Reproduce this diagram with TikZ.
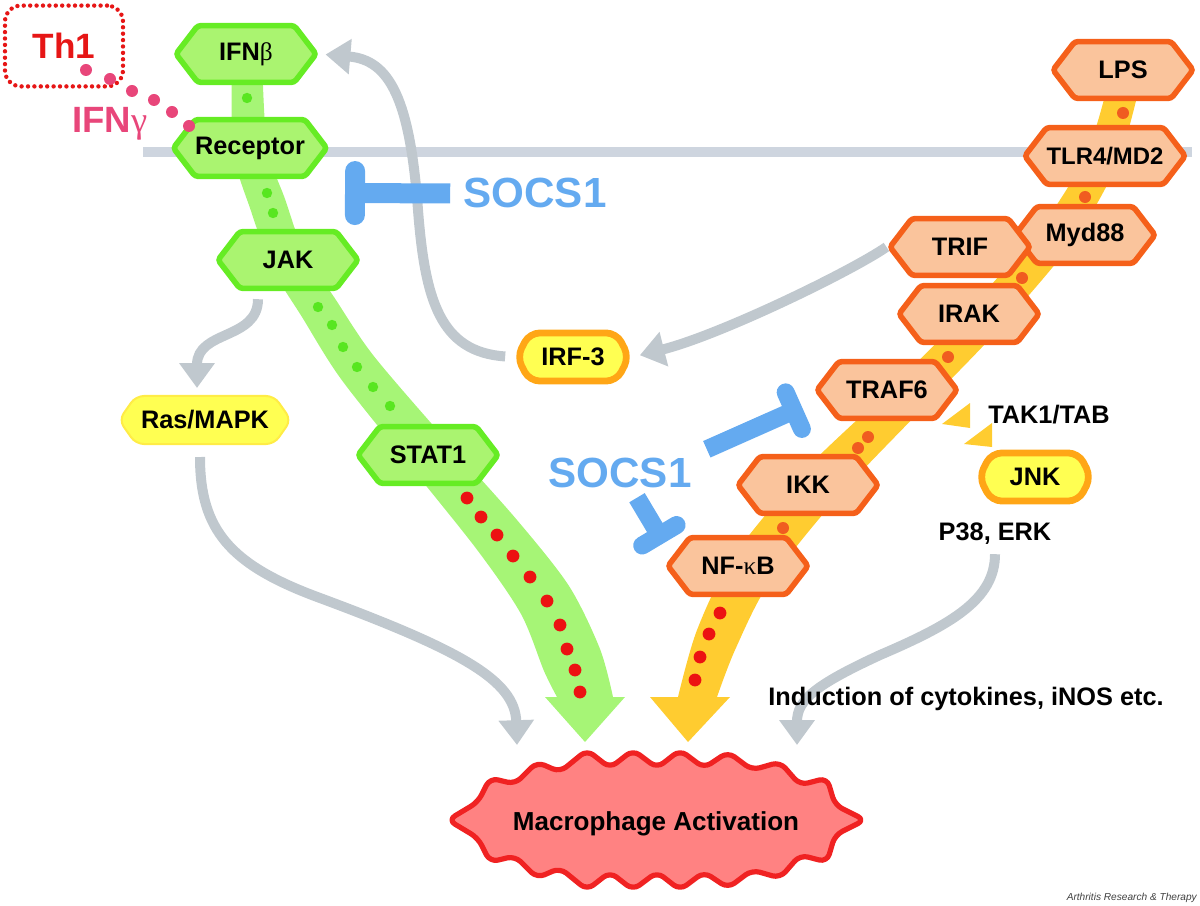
\documentclass[tikz,border=0pt]{standalone}
\usepackage{fontspec}
\setmainfont{Liberation Sans}
\newfontfamily\grk{Liberation Serif}
\usepackage{tikz}
\usetikzlibrary{shapes,arrows.meta,calc,positioning}
\definecolor{grnfill}{RGB}{170,244,112}
\definecolor{grnline}{RGB}{102,236,36}
\definecolor{grnband}{RGB}{166,245,118}
\definecolor{grndot}{RGB}{88,230,32}
\definecolor{orfill}{RGB}{250,196,156}
\definecolor{orline}{RGB}{245,96,26}
\definecolor{orband}{RGB}{255,204,48}
\definecolor{ordot}{RGB}{240,92,32}
\definecolor{reddot}{RGB}{236,18,18}
\definecolor{greyarr}{RGB}{192,200,206}
\definecolor{membr}{RGB}{206,213,223}
\definecolor{socs}{RGB}{100,170,240}
\definecolor{thred}{RGB}{230,22,22}
\definecolor{ifnpink}{RGB}{232,70,122}
\definecolor{yelfill}{RGB}{255,255,82}
\definecolor{yelline}{RGB}{255,166,22}
\definecolor{macfill}{RGB}{255,130,130}
\definecolor{macline}{RGB}{240,34,34}
\tikzstyle{lbl} = [font=\fontsize{18}{20}\selectfont\bfseries, inner sep=0pt]
\tikzstyle{hexg} = [lbl, shape=signal, signal to=east and west, signal pointer angle=105, draw=grnline, fill=grnfill, line width=0.14cm, rounded corners=0.08cm, minimum width=3.5cm, minimum height=1.42cm]
\tikzstyle{hexo} = [hexg, draw=orline, fill=orfill]
\tikzstyle{octy} = [lbl, shape=signal, signal to=east and west, signal pointer angle=125, draw=yelline, fill=yelfill, line width=0.17cm, rounded corners=0.25cm, minimum width=2.8cm, minimum height=1.2cm]
\tikzstyle{rasy} = [octy, signal pointer angle=110, draw=yelfill!85!orange, line width=0.05cm, rounded corners=0.2cm, minimum width=4.3cm, minimum height=1.2cm]
\tikzstyle{greyarrow} = [line width=0.25cm, draw=greyarr, -{Triangle[width=0.85cm,length=0.62cm]}]
\tikzstyle{inhib} = [line width=0.45cm, draw=socs, -{Bar[width=1.0cm,round]}]
\tikzstyle{socstext} = [font=\fontsize{30}{32}\selectfont\bfseries, text=socs, inner sep=0pt]
\tikzstyle{th1box} = [draw=thred, text=thred, line width=0.11cm, dash pattern=on 0pt off 0.16cm, line cap=round, rounded corners=0.4cm, minimum width=2.95cm, minimum height=2.02cm, font=\fontsize{25}{27}\selectfont\bfseries]

\begin{document}
\begin{tikzpicture}[x=0.025cm,y=-0.025cm]
\useasboundingbox (0,0) rectangle (1200,905);

% membrane
\draw[line width=0.25cm, membr] (143,152) -- (1192,152);

% IFN pathway band
\fill[grnband] plot[smooth] coordinates {(232,56) (233,150) (251,211) (272,268) (302,317) (341,379) (411,467) (478,551) (521,614) (544,671) (557,697)}
  -- (545,697) -- (585,742) -- (625,697) -- (613,697)
  -- plot[smooth] coordinates {(613,697) (600,649) (569,586) (517,520) (445,439) (373,355) (334,297) (304,252) (285,199) (267,146) (262,56)} -- cycle;
% LPS pathway band
\fill[orband] plot[smooth] coordinates {(1110,76) (1088,150) (1046,220) (972,306) (892,387) (804,471) (733,557) (697,630) (678,697)}
  -- (650,697) -- (688,742) -- (730,697) -- (717,697)
  -- plot[smooth] coordinates {(717,697) (735,650) (769,583) (836,499) (918,413) (998,330) (1074,240) (1118,162) (1140,84)} -- cycle;
\fill[orband] (970,403) -- (970,428) -- (942,424) -- cycle;
\fill[orband] (992,423) -- (992,447) -- (964,444) -- cycle;

\foreach \x/\y in {247/98, 267/193, 273/213, 318/307, 332/325, 343/347, 357/367, 373/387, 390/406}
  \fill[grndot] (\x,\y) circle[radius=0.13cm];
\foreach \x/\y in {467/498, 481/517, 497/535, 513/556, 530/577, 547/601, 560/625, 567/649, 575/670, 580/692, 720/613, 709/634, 700/657, 695/680}
  \fill[reddot] (\x,\y) circle[radius=0.16cm];
\foreach \x/\y in {1123/113, 1085/197, 1022/278, 948/357, 868/437, 858/448, 783/528}
  \fill[ordot] (\x,\y) circle[radius=0.15cm];

% macrophage
\draw[line width=0.13cm, draw=macline, fill=macfill, rounded corners=0.2cm, line join=round]
  (448,820) -- (478,802) -- (490,778) -- (515,784) -- (537,762) -- (560,772) -- (587,750) -- (610,768)
  -- (633,750) -- (657,768) -- (680,750) -- (704,768) -- (728,752) -- (752,770) -- (780,762) -- (800,785)
  -- (827,778) -- (835,805) -- (865,820) -- (835,835) -- (827,862) -- (800,855) -- (780,878) -- (752,870)
  -- (728,888) -- (704,872) -- (680,890) -- (657,872) -- (633,890) -- (610,872) -- (587,890) -- (560,868)
  -- (537,878) -- (515,856) -- (490,862) -- (478,838) -- cycle;
\node[lbl, font=\fontsize{18.5}{20}\selectfont\bfseries, anchor=base] (mact) at (656,830) {Macrophage Activation};
\coordinate (inL) at (517,745);
\coordinate (inR) at (797,745);

\node[th1box] (th1) at (64,46) {Th1};
\node[text=ifnpink, font=\fontsize{26}{28}\selectfont\bfseries, inner sep=0pt, anchor=base west] (ifng) at (72,133) {IFN{\grk\mdseries γ}};

\node[hexg] (ifnb) at (246,54) {IFN{\grk\mdseries β}};
\node[hexg] (rec) at (250,148) {Receptor};
\node[hexg] (jak) at (288,260) {JAK};
\node[hexg] (stat) at (428,455) {STAT1};

\node[hexo] (lps) at (1123,70) {LPS};
\node[hexo, font=\fontsize{17}{18}\selectfont\bfseries] (tlr) at (1105,156) {TLR4/MD2};
\node[hexo] (myd) at (1085,235) {Myd88};
\node[hexo] (trif) at (960,247) {TRIF};
\node[hexo] (irak) at (969,314) {IRAK};
\node[hexo] (traf) at (887,390) {TRAF6};
\node[hexo] (ikk) at (808,485) {IKK};
\node[hexo] (nfkb) at (738,566) {NF-{\grk\mdseries κ}B};

\node[octy] (irf) at (573,357) {IRF-3};
\node[octy] (jnk) at (1035,477) {JNK};
\node[rasy] (ras) at (205,420) {Ras/MAPK};

\foreach \x/\y in {86/70, 110/79, 132/91, 154/100, 172/112, 189/126}
  \fill[ifnpink] (\x,\y) circle[radius=0.15cm];

\node[lbl, anchor=base west] (tak) at (988,423) {TAK1/TAB};
\node[lbl, anchor=base] (pe) at (995,540) {P38, ERK};

% grey arrows
\draw[greyarrow, shorten <=0.2cm, shorten >=0.15cm] (irf.west) .. controls (440,352) and (425,300) .. (418,210) .. controls (410,100) and (390,60) .. (ifnb.east);
\draw[greyarrow, shorten >=0.18cm] (trif.west) .. controls (850,272) and (720,335) .. (irf.east);
\draw[greyarrow] ($(jak.south)+(-30,8)$) .. controls (258,340) and (197,330) .. ($(ras.north)+(-8,-7)$);
\draw[greyarrow] ($(ras.south)+(-5,12)$) .. controls (200,530) and (230,565) .. (320,598) .. controls (460,650) and (515,680) .. (inL);
\draw[greyarrow] ($(pe.south)+(0,10)$) .. controls (995,600) and (950,625) .. (880,655) .. controls (815,685) and (797,700) .. (inR);
\node[lbl, anchor=base] (induc) at (966,705) {Induction of cytokines, iNOS etc.};

% SOCS1 inhibition
\node[socstext, anchor=base] (socsA) at (535,208) {SOCS1};
\node[socstext, anchor=base] (socsB) at (620,487) {SOCS1};
\coordinate (blkA) at (345,193);
\coordinate (blkB) at (802,407);
\coordinate (blkC) at (664,543);
\draw[inhib, line width=0.5cm, -{Bar[width=1.1cm,round]}] ($(socsA.west)+(-13,0)$) -- (blkA);
\draw[inhib] ($(socsB.north east)+(15,-8)$) -- (blkB);
\draw[inhib] ($(socsB.south)+(17,10)$) -- (blkC);

\node[font=\fontsize{7.2}{8}\selectfont\itshape, text=black!75, inner sep=0pt, anchor=base east] (credit) at (1197,900) {Arthritis Research \& Therapy};
\end{tikzpicture}
\end{document}
